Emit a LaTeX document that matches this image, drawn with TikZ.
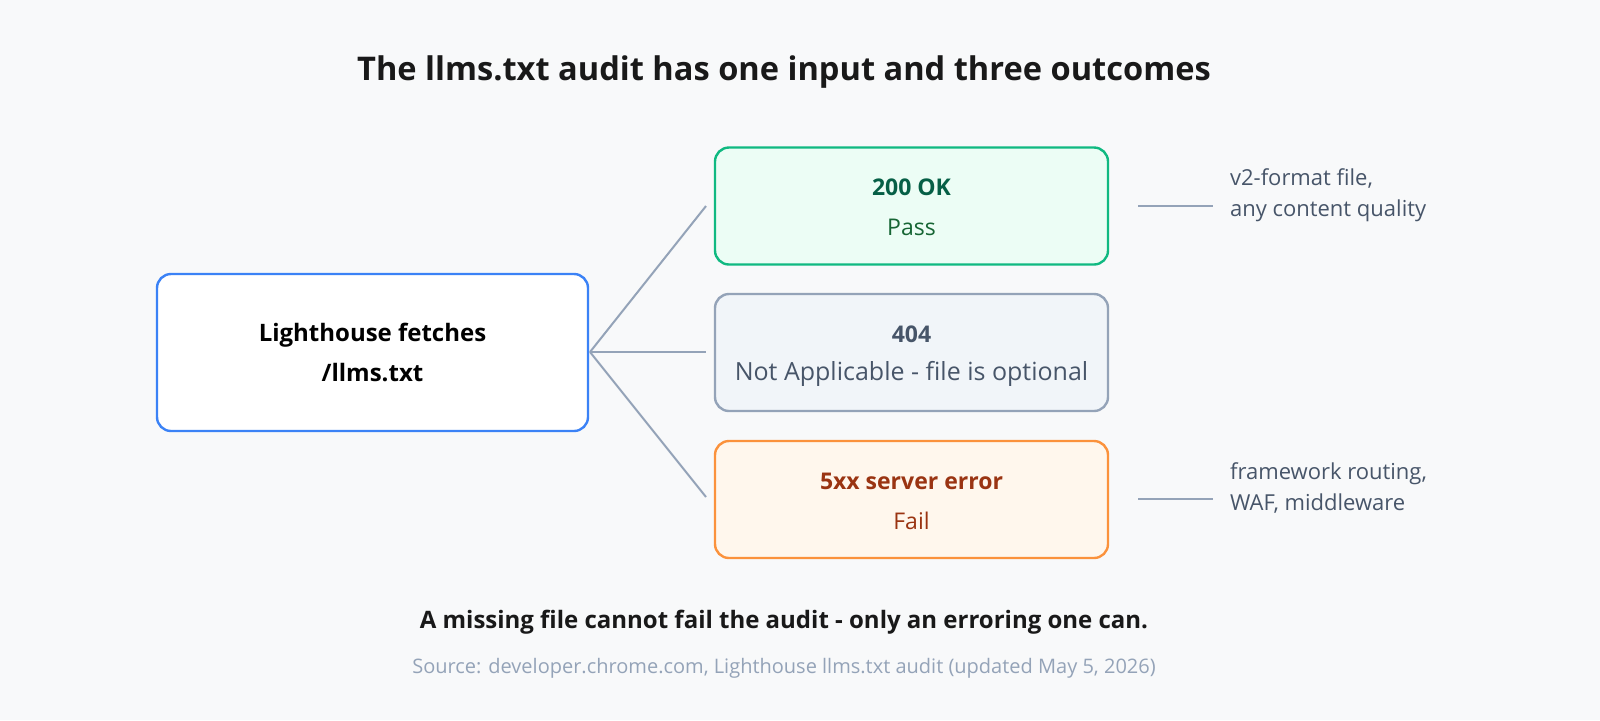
\documentclass[tikz,border=0pt]{standalone}
\usepackage{fontspec}
\setmainfont{Open Sans}
\begin{document}
\begin{tikzpicture}[x=0.5pt,y=-0.5pt,
 box/.style={draw,line width=1.2pt,rounded corners=7pt,minimum width=196.5pt,minimum height=58.5pt},
 conn/.style={draw=lineC,line width=1pt},
 side/.style={anchor=west,align=left,text=sideC,font=\fontsize{11}{15.5}\selectfont}]
\definecolor{bg}{HTML}{F8F9FA}
\definecolor{lineC}{HTML}{94A3B8}
\definecolor{sideC}{HTML}{475569}
\fill[bg] (0,0) rectangle (1600,720);
\useasboundingbox (0,0) rectangle (1600,720);
\node[font=\bfseries\fontsize{16.3}{18}\selectfont,text=black!90] (title) at (784,72) {The llms.txt audit has one input and three outcomes};
\node[box,draw={rgb,255:red,59;green,130;blue,246},fill=white,minimum width=215.5pt,minimum height=78.5pt,align=center,font=\bfseries\fontsize{12}{20}\selectfont] (src) at (372.5,352.5) {Lighthouse fetches\\/llms.txt};
\node[box,draw={rgb,255:red,16;green,185;blue,129},fill={rgb,255:red,236;green,253;blue,245}] (ok) at (911.5,206) {};
\node[font=\bfseries\fontsize{11.5}{14}\selectfont,text={rgb,255:red,6;green,95;blue,70}] (okt) at (911.5,187) {200 OK};
\node[font=\fontsize{11.5}{13}\selectfont,text={rgb,255:red,22;green,101;blue,52}] (oks) at (911.5,227) {Pass};
\node[box,draw=lineC,fill={rgb,255:red,241;green,245;blue,249}] (na) at (911.5,352.5) {};
\node[font=\bfseries\fontsize{11.5}{14}\selectfont,text=sideC] (nat) at (911.5,334) {404};
\node[font=\fontsize{12.5}{13}\selectfont,text=sideC] (nas) at (911.5,374) {Not Applicable - file is optional};
\node[box,draw={rgb,255:red,251;green,146;blue,60},fill={rgb,255:red,255;green,247;blue,237}] (fail) at (911.5,499.5) {};
\node[font=\bfseries\fontsize{11.5}{14}\selectfont,text={rgb,255:red,154;green,52;blue,18}] (ft) at (911.5,481) {5xx server error};
\node[font=\fontsize{11.5}{13}\selectfont,text={rgb,255:red,154;green,52;blue,18}] (fs) at (911.5,521) {Fail};
\coordinate (j) at (590,352);
\coordinate (e1) at (706,206);
\coordinate (e2) at (706,352);
\coordinate (e3) at (706,497);
\draw[conn] (j) -- (e1);
\draw[conn] (j) -- (e2);
\draw[conn] (j) -- (e3);
\coordinate (s1a) at (1138,206); \coordinate (s1b) at (1213,206);
\coordinate (s3a) at (1138,499); \coordinate (s3b) at (1213,499);
\draw[conn] (s1a) -- (s1b);
\draw[conn] (s3a) -- (s3b);
\node[side] (n1) at (1223,195) {v2-format file,\\any content quality};
\node[side] (n3) at (1223,488) {framework routing,\\WAF, middleware};
\node[font=\bfseries\fontsize{12}{13}\selectfont,text=black!90] (foot) at (784,622) {A missing file cannot fail the audit - only an erroring one can.};
\node[font=\fontsize{10}{11}\selectfont,text=lineC] (srcn) at (784,668) {Source: developer.chrome.com, Lighthouse llms.txt audit (updated May 5, 2026)};
\end{tikzpicture}
\end{document}
